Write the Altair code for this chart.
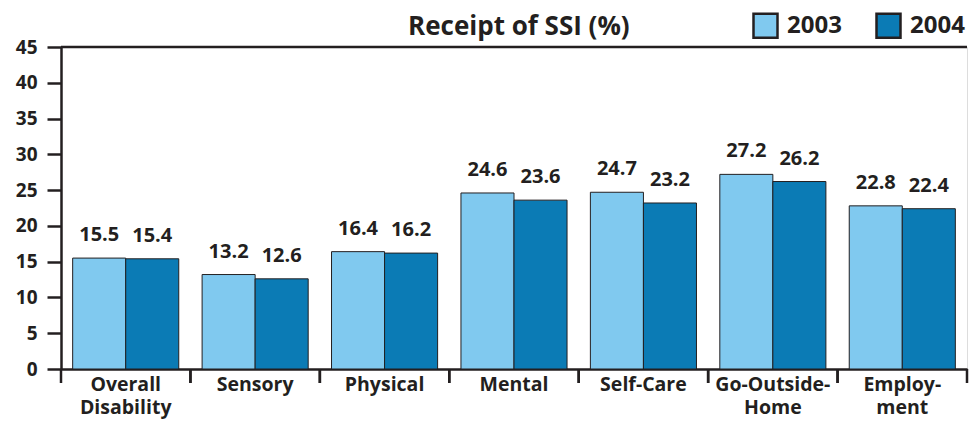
import altair as alt
import pandas as pd

categories = ["Overall Disability", "Sensory", "Physical", "Mental",
              "Self-Care", "Go-Outside-Home", "Employment"]
years = ["2003", "2004"]
v2003 = [15.5, 13.2, 16.4, 24.6, 24.7, 27.2, 22.8]
v2004 = [15.4, 12.6, 16.2, 23.6, 23.2, 26.2, 22.4]
y_ticks = [0, 5, 10, 15, 20, 25, 30, 35, 40, 45]
colors = ["#80c9ef", "#0b7bb5"]
title_text = ["Receipt of SSI (%)"]

rows = []
for c, a, b in zip(categories, v2003, v2004):
    rows.append({"category": c, "year": "2003", "value": a})
    rows.append({"category": c, "year": "2004", "value": b})
df = pd.DataFrame(rows)
cats_df = pd.DataFrame({"category": categories})

FONT = "Open Sans"
TXT = "#231f20"
W, H = 906, 322

label_expr = ("datum.label == 'Overall Disability' ? ['Overall', 'Disability'] : "
              "datum.label == 'Go-Outside-Home' ? ['Go-Outside-', 'Home'] : "
              "datum.label == 'Employment' ? ['Employ-', 'ment'] : datum.label")

xscale = alt.Scale(paddingInner=0, paddingOuter=0)
x_axis = alt.Axis(title=None, labelAngle=0, ticks=False, domain=True,
                  domainColor=TXT, domainWidth=2.5, labelFont=FONT,
                  labelFontSize=19.5, labelFontWeight="bold", labelColor=TXT,
                  labelPadding=6, labelLineHeight=23, labelExpr=label_expr,
                  labelBaseline="top")
yscale = alt.Scale(domain=[0, 45], nice=False)
y_axis = alt.Axis(title=None, values=y_ticks, grid=False, tickSize=14,
                  tickWidth=2.5, tickColor=TXT, domainColor=TXT, domainWidth=2.5,
                  labelFont=FONT, labelFontSize=19, labelFontWeight="bold",
                  labelColor=TXT, labelPadding=10)
offset_scale = alt.Scale(paddingInner=0, paddingOuter=0.22)

base = alt.Chart(df)

bars = base.mark_bar(stroke=TXT, strokeWidth=1).encode(
    x=alt.X("category:N", sort=categories, scale=xscale, axis=x_axis),
    xOffset=alt.XOffset("year:N", sort=years, scale=offset_scale),
    y=alt.Y("value:Q", scale=yscale, axis=y_axis),
    color=alt.Color("year:N", sort=years,
                    scale=alt.Scale(domain=years, range=colors),
                    legend=alt.Legend(orient="none", legendX=691, legendY=-35,
                                      direction="horizontal", title=None,
                                      symbolType="square", symbolSize=576,
                                      symbolStrokeColor=TXT, symbolStrokeWidth=2.5,
                                      labelFont=FONT, labelFontSize=24,
                                      labelFontWeight="bold", labelColor=TXT,
                                      columnPadding=29, labelOffset=8, padding=0)),
)

labels = base.mark_text(dy=-17, baseline="alphabetic", font=FONT, fontSize=20,
                        fontWeight="bold", color=TXT).encode(
    x=alt.X("category:N", sort=categories, scale=xscale, axis=x_axis),
    xOffset=alt.XOffset("year:N", sort=years, scale=offset_scale),
    y=alt.Y("value:Q", scale=yscale, axis=y_axis),
    text=alt.Text("value:Q", format=".1f"),
)

tick_l = alt.Chart(cats_df).mark_rule(color=TXT, strokeWidth=2.5).encode(
    x=alt.X("category:N", sort=categories, scale=xscale, bandPosition=0, axis=x_axis),
    y=alt.value(H), y2=alt.value(H + 14))
tick_r = alt.Chart(cats_df).mark_rule(color=TXT, strokeWidth=2.5).encode(
    x=alt.X("category:N", sort=categories, scale=xscale, bandPosition=1, axis=x_axis),
    y=alt.value(H), y2=alt.value(H + 14))

top_rule = alt.Chart(pd.DataFrame({"v": [45]})).mark_rule(color=TXT, strokeWidth=2.5).encode(
    y=alt.Y("v:Q", scale=yscale, axis=y_axis))

title = alt.Chart(pd.DataFrame({"t": title_text})).mark_text(
    align="left", baseline="alphabetic", font=FONT, fontSize=26,
    fontWeight="bold", color=TXT).encode(
    text="t:N", x=alt.value(347), y=alt.value(-12))

chart = alt.layer(bars, labels, tick_l, tick_r, top_rule, title).properties(
    width=W, height=H,
    autosize=alt.AutoSizeParams(type="none"),
    padding={"left": 53, "top": 39, "right": 4, "bottom": 51},
).configure_view(stroke="#777777", strokeWidth=1).configure(background="white")

chart.save("out.html", embed_options={"renderer": "svg", "actions": False})
